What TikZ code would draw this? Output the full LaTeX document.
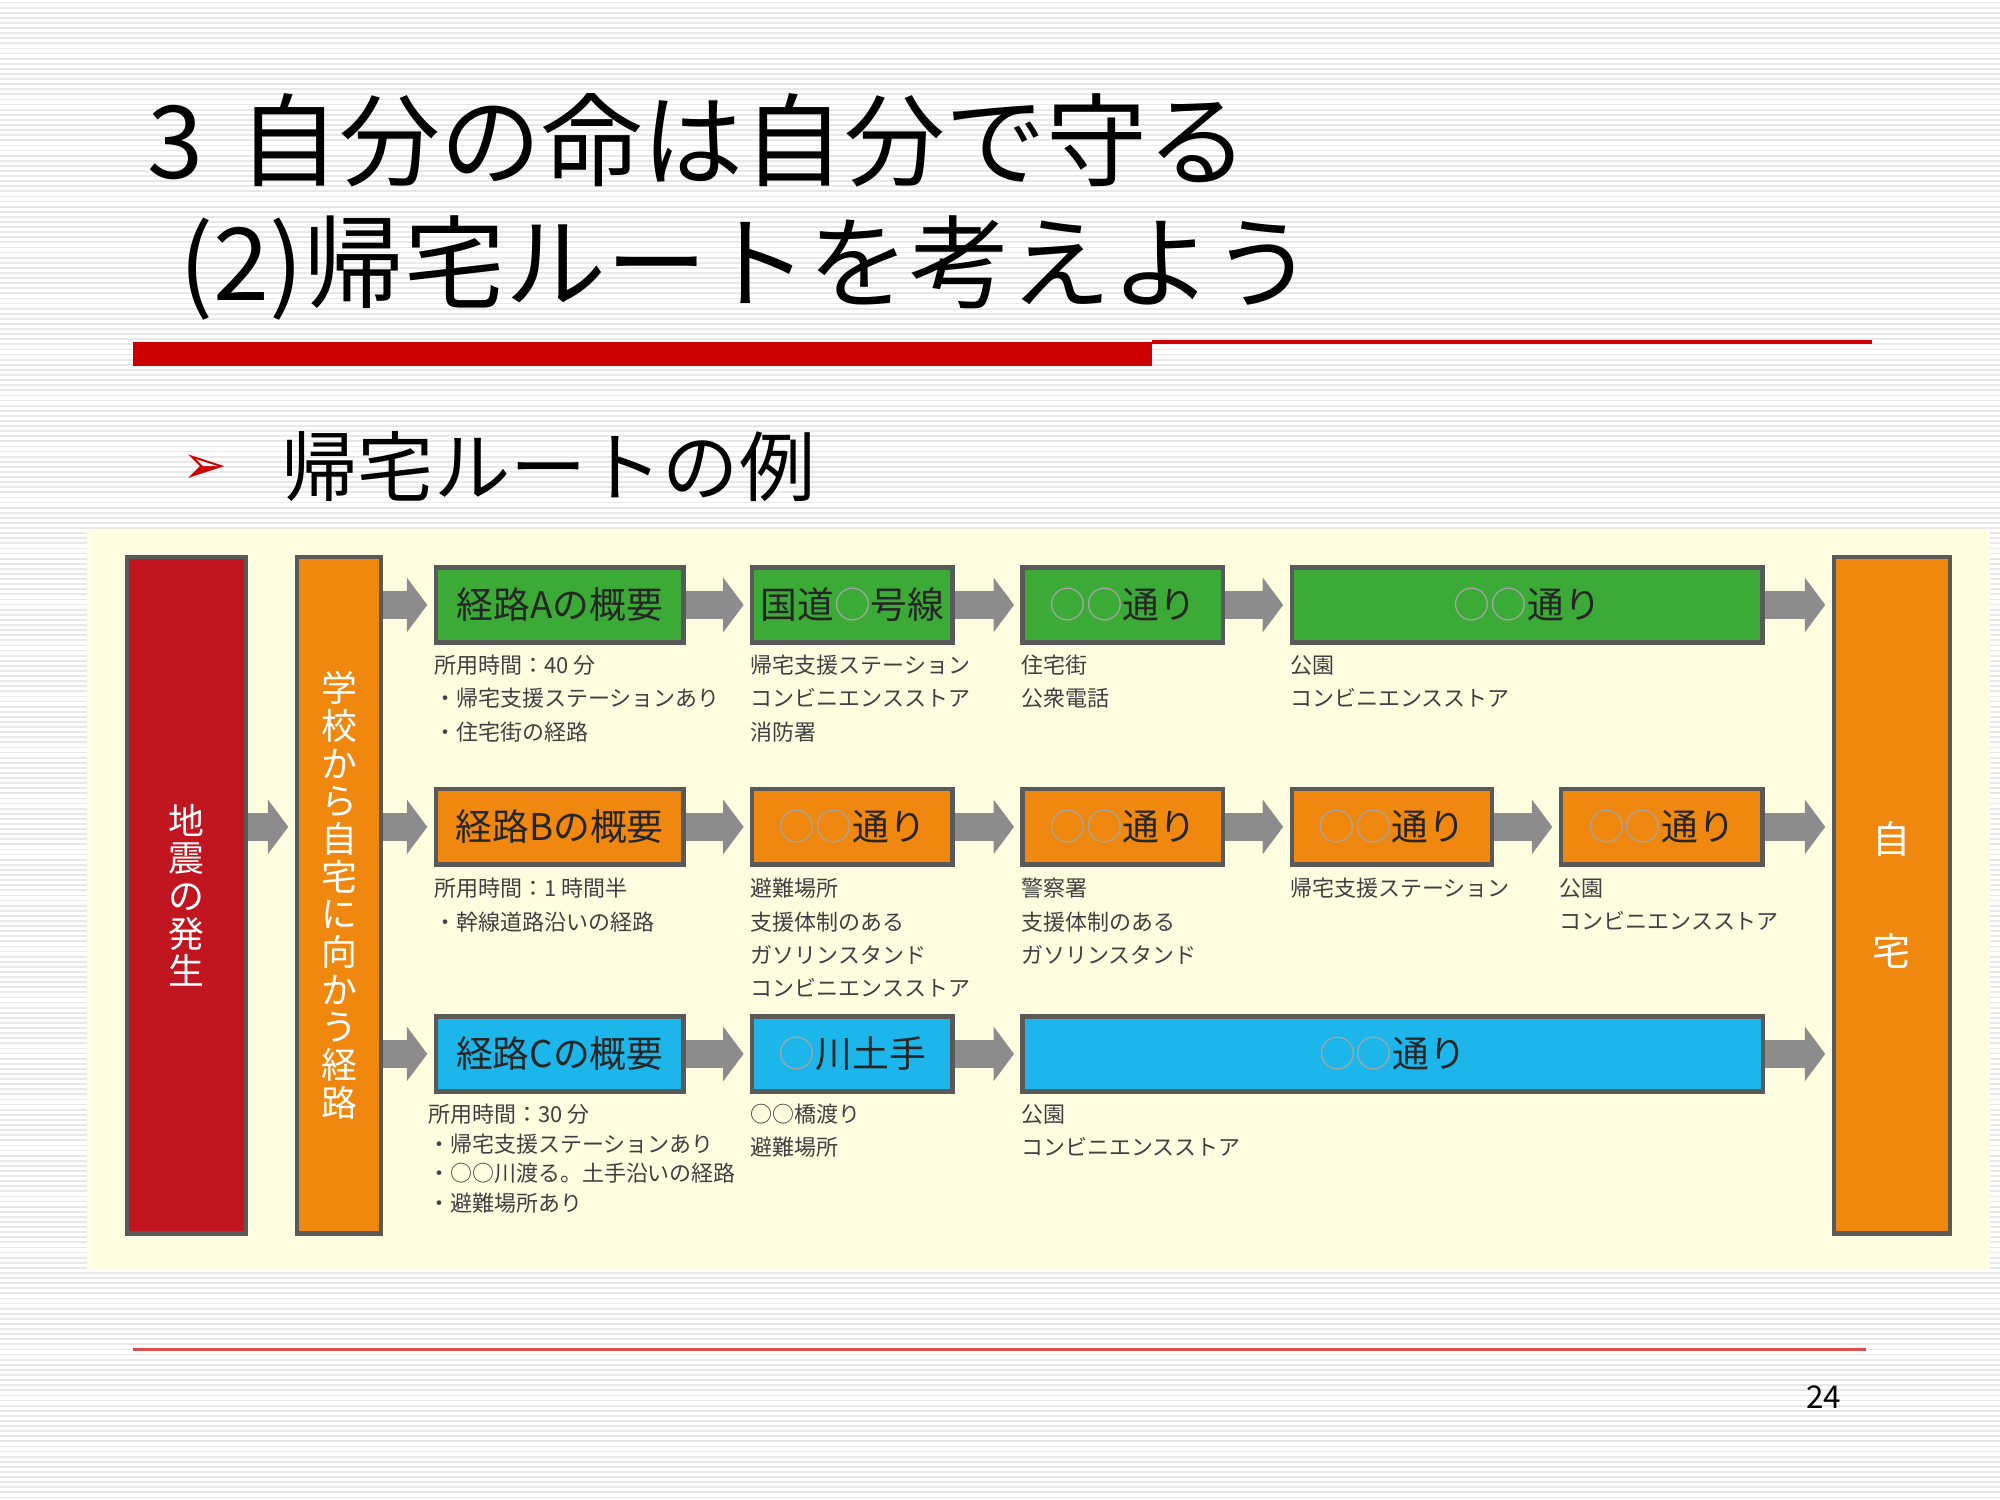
\documentclass[tikz,border=0pt]{standalone}
\usepackage{fontspec}
\setmainfont{Noto Sans CJK JP}
\newfontfamily\djv{DejaVu Sans}
\usetikzlibrary{arrows.meta}
\definecolor{grn}{HTML}{3CAA36}
\definecolor{org}{HTML}{F0870F}
\definecolor{blu}{HTML}{1CB6EA}
\definecolor{rd}{HTML}{C1161F}
\definecolor{ttlred}{HTML}{CC0000}
\tikzset{
 box/.style={draw=black!65,line width=1pt,inner sep=0,anchor=north west,minimum height=5.9mm,font=\fontsize{8.2}{10}\selectfont,text=black!85},
 arr/.style={draw=black!45,line width=2.2mm,-{Triangle[length=1.6mm,width=4.2mm]},shorten >=0.5mm},
 note/.style={anchor=north west,align=left,inner sep=0,font=\fontsize{4.9}{7.4}\selectfont,text=black!75},
 vbox/.style={draw=black!65,line width=1pt,anchor=north west,inner sep=0,align=center,text=white,font=\fontsize{8}{8.4}\selectfont}
}
\newcommand\bx[6]{\node[box,fill=#6,minimum width=#4*0.1mm] (#1) at (#2,#3) {#5};}
\newcommand\oo{{\color{black!35}○○}}
\begin{document}
\begin{tikzpicture}[x=0.01cm,y=-0.01cm]
\useasboundingbox (0,0) rectangle (1568,1176);
\fill[white] (0,0) rectangle (1568,1176);
\foreach \i in {2,6,...,1176} \draw[black!9,line width=0.4pt] (0,\i)--(1568,\i);
% title
\node[anchor=west,inner sep=0,font=\fontsize{22.5}{26}\selectfont] (t1) at (115,110) {3\hspace{0.35em}自分の命は自分で守る};
\node[anchor=west,inner sep=0,font=\fontsize{22.5}{26}\selectfont] (t2) at (140,210) {(2)帰宅ルートを考えよう};
\fill[ttlred] (104,268) rectangle (903,287);
\draw[ttlred,line width=0.8pt] (903,268) -- (1468,268);
\node[anchor=west,inner sep=0,text=ttlred,font=\djv\fontsize{12}{14}\selectfont] (bul) at (142,368) {➢};
\node[anchor=west,inner sep=0,font=\fontsize{17}{20}\selectfont] (sub) at (220,366) {帰宅ルートの例};
% panel
\fill[yellow!12] (68,415) rectangle (1560,995);
\node[vbox,fill=rd,minimum width=9.3mm,minimum height=53mm] (quake) at (98,435) {地\\震\\の\\発\\生};
\node[vbox,fill=org,minimum width=6.6mm,minimum height=53mm] (school) at (231,435) {学\\校\\か\\ら\\自\\宅\\に\\向\\か\\う\\経\\路};
\node[vbox,fill=org,minimum width=9.1mm,minimum height=53mm,font=\fontsize{8.5}{25}\selectfont] (home) at (1436,435) {自\\宅};
% row A
\bx{a1}{340}{443}{194}{経路Aの概要}{grn}
\bx{a2}{588}{443}{157}{国道{\color{black!35}○}号線}{grn}
\bx{a3}{800}{443}{157}{\oo 通り}{grn}
\bx{a4}{1011}{443}{369}{\oo 通り}{grn}
% row B
\bx{b1}{340}{617}{194}{経路Bの概要}{org}
\bx{b2}{588}{617}{157}{\oo 通り}{org}
\bx{b3}{800}{617}{157}{\oo 通り}{org}
\bx{b4}{1011}{617}{157}{\oo 通り}{org}
\bx{b5}{1222}{617}{158}{\oo 通り}{org}
% row C
\bx{c1}{340}{795}{194}{経路Cの概要}{blu}
\bx{c2}{588}{795}{157}{{\color{black!35}○}川土手}{blu}
\bx{c3}{800}{795}{580}{\oo 通り}{blu}
% arrows
\draw[arr] (quake.east |- b1) -- (school.west |- b1);
\foreach \r in {a1,b1,c1} \draw[arr] (school.east |- \r) -- (\r.west);
\draw[arr] (a1) -- (a2); \draw[arr] (a2) -- (a3); \draw[arr] (a3) -- (a4);
\draw[arr] (b1) -- (b2); \draw[arr] (b2) -- (b3); \draw[arr] (b3) -- (b4); \draw[arr] (b4) -- (b5);
\draw[arr] (c1) -- (c2); \draw[arr] (c2) -- (c3);
\foreach \r in {a4,b5,c3} \draw[arr] (\r.east) -- (home.west |- \r);
% notes
\node[note] (na1) at (340,513) {所用時間：40 分\\・帰宅支援ステーションあり\\・住宅街の経路};
\node[note] (na2) at (588,513) {帰宅支援ステーション\\コンビニエンスストア\\消防署};
\node[note] (na3) at (800,513) {住宅街\\公衆電話};
\node[note] (na4) at (1011,513) {公園\\コンビニエンスストア};
\node[note] (nb1) at (340,688) {所用時間：1 時間半\\・幹線道路沿いの経路};
\node[note] (nb2) at (588,688) {避難場所\\支援体制のある\\ガソリンスタンド\\コンビニエンスストア};
\node[note] (nb3) at (800,688) {警察署\\支援体制のある\\ガソリンスタンド};
\node[note] (nb4) at (1011,688) {帰宅支援ステーション};
\node[note] (nb5) at (1222,688) {公園\\コンビニエンスストア};
\node[note,font=\fontsize{4.9}{6.6}\selectfont] (nc1) at (335,865) {所用時間：30 分\\・帰宅支援ステーションあり\\・○○川渡る。土手沿いの経路\\・避難場所あり};
\node[note] (nc2) at (588,865) {○○橋渡り\\避難場所};
\node[note] (nc3) at (800,865) {公園\\コンビニエンスストア};
% footer
\draw[ttlred!70,line width=0.6pt] (104,1058) -- (1463,1058);
\node[inner sep=0,font=\fontsize{7}{8}\selectfont] (pg) at (1430,1095) {24};
\end{tikzpicture}
\end{document}
